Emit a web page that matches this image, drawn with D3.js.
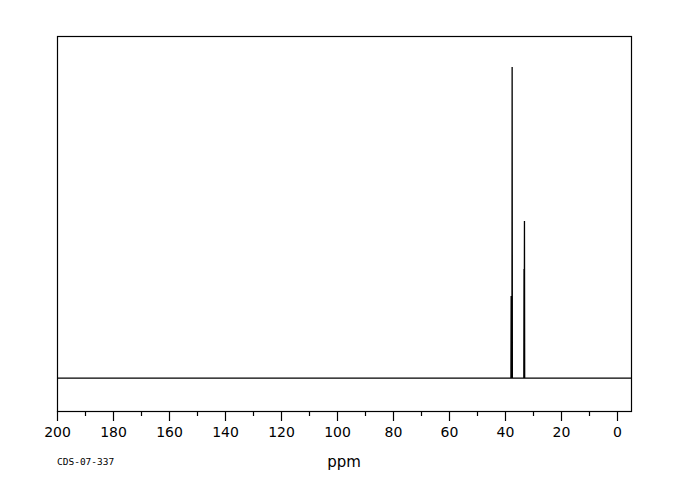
<!DOCTYPE html>
<html>
<head>
<meta charset="utf-8">
<script src="https://cdn.jsdelivr.net/npm/d3@7"></script>
<style>
  body { margin: 0; background: #fff; }
  svg { display: block; }
  .tick text { font-family: "DejaVu Sans", sans-serif; font-size: 14px; }
</style>
</head>
<body>
<div id="chart-area"></div>
<script>
// Peak positions (ppm) and relative intensities
let peakPpm = [37.8, 37.45, 33.2, 33.05];
let peakHeight = [26.4, 100, 35.1, 50.5];

let majorTicks = [200, 180, 160, 140, 120, 100, 80, 60, 40, 20, 0];
let minorTicks = [190, 170, 150, 130, 110, 90, 70, 50, 30, 10];

let margin = { top: 36, right: 49, bottom: 89, left: 57 };
let width = 680 - margin.left - margin.right,
  height = 500 - margin.top - margin.bottom;

let svg = d3
  .select("#chart-area")
  .append("svg")
  .attr("width", 680)
  .attr("height", 500)
  .append("g")
  .attr("transform", "translate(" + margin.left + "," + margin.top + ")");

let x = d3.scaleLinear().domain([200, -5]).range([0, width]);
let y = d3.scaleLinear().domain([-10.6, 110]).range([height, 0]);

// frame
svg
  .append("rect")
  .attr("x", 0.5)
  .attr("y", 0.5)
  .attr("width", width)
  .attr("height", height)
  .attr("fill", "none")
  .attr("stroke", "black")
  .attr("stroke-width", 1.2);

// spectrum trace
let peaks = peakPpm.map((p, i) => ({ ppm: p, h: peakHeight[i] }));
peaks.sort((a, b) => d3.descending(a.ppm, b.ppm));
let pts = [[200, 0]];
peaks.forEach(d => {
  pts.push([d.ppm + 0.08, 0]);
  pts.push([d.ppm, d.h]);
  pts.push([d.ppm - 0.08, 0]);
});
pts.push([-5, 0]);

let line = d3
  .line()
  .x(d => x(d[0]))
  .y(d => y(d[1]));

svg
  .append("path")
  .datum(pts)
  .attr("d", line)
  .attr("fill", "none")
  .attr("stroke", "black")
  .attr("stroke-width", 1.3);

// x axis
let xAxis = d3
  .axisBottom(x)
  .tickValues(majorTicks)
  .tickSize(10)
  .tickPadding(6)
  .tickFormat(d3.format("d"));

let gx = svg
  .append("g")
  .attr("transform", "translate(0," + height + ")")
  .call(xAxis);
gx.select(".domain").remove();
gx.selectAll(".tick line").attr("stroke-width", 1.2);

let gMinor = svg
  .append("g")
  .attr("transform", "translate(0," + height + ")")
  .call(d3.axisBottom(x).tickValues(minorTicks).tickSize(5).tickFormat(""));
gMinor.select(".domain").remove();
gMinor.selectAll(".tick line").attr("stroke-width", 1.2);

svg
  .append("text")
  .text("ppm")
  .attr("x", 344 - margin.left)
  .attr("y", 467 - margin.top)
  .attr("text-anchor", "middle")
  .style("font-family", "DejaVu Sans, sans-serif")
  .style("font-size", "15px");

svg
  .append("text")
  .text("CDS-07-337")
  .attr("x", 0)
  .attr("y", 465 - margin.top)
  .style("font-family", "DejaVu Sans Mono, monospace")
  .style("font-size", "9.5px");
</script>
</body>
</html>
